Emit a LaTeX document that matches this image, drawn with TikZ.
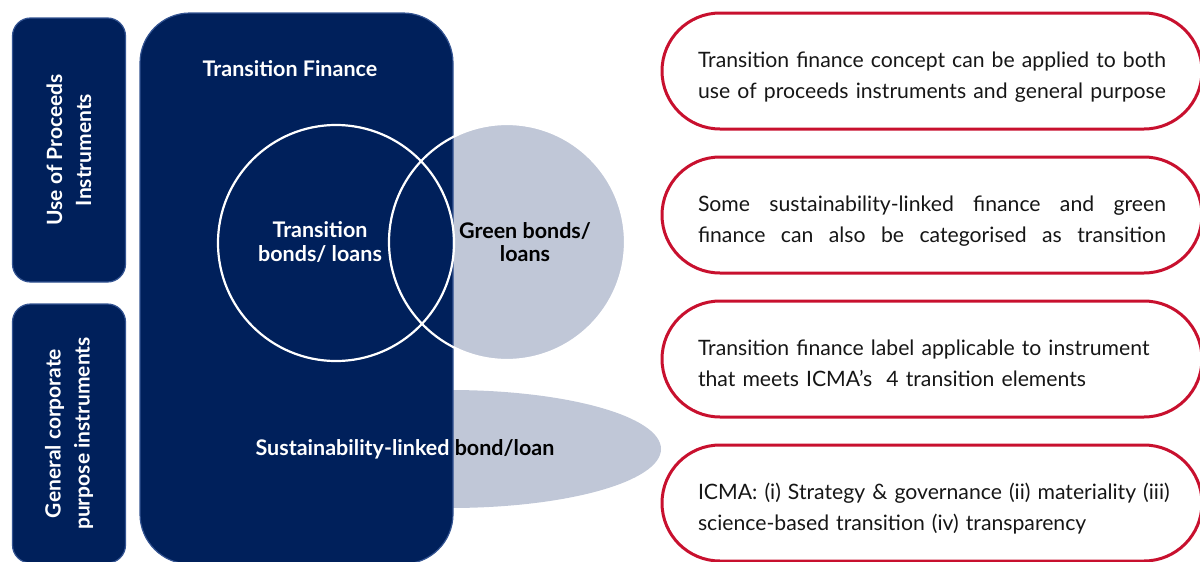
\documentclass[tikz,border=0pt]{standalone}
\usepackage{fontspec}
\setmainfont{Lato}
\usetikzlibrary{positioning,shapes.geometric}
\definecolor{tfnavy}{RGB}{0,32,91}
\definecolor{tfedge}{RGB}{52,84,146}
\definecolor{tfgrey}{RGB}{192,199,215}
\definecolor{tfred}{RGB}{200,16,46}
\definecolor{tfink}{RGB}{22,22,22}
% one line spread over the full note width
\newcommand\fullline[1]{\leavevmode\hbox to 468pt{\spaceskip=\fontdimen2\font plus 1fil\relax #1}}
% one line kept on its own even if a hair too long
\newcommand\oneline[1]{\leavevmode\hbox to 468pt{#1\hss}}
\tikzset{
  tfbox/.style={
    fill=tfnavy, draw=tfedge, line width=1.2pt, inner sep=0pt
  },
  side/.style={
    tfbox, rounded corners=18pt, rotate=90, minimum height=113pt,
    text=white, align=center, font=\fontsize{21}{29}\selectfont\bfseries
  },
  ring/.style={circle, draw=white, line width=2.2pt, minimum size=236pt, inner sep=0pt},
  blob/.style={fill=tfgrey, inner sep=0pt},
  lbl/.style={align=center, inner sep=0pt, font=\fontsize{21.5}{23.5}\selectfont\bfseries},
  note/.style={
    draw=tfred, line width=3pt, rounded corners=58pt,
    minimum width=540pt, minimum height=116pt, inner sep=0pt,
    text width=468pt, align=left, text=tfink,
    font=\fontsize{21.2}{31.5}\selectfont,
    execute at begin node={\rule{0pt}{31pt}},
    execute at end node={\rule[-7pt]{0pt}{7pt}}
  }
}

\begin{document}
\begin{tikzpicture}[x=1pt, y=-1pt, node distance=25pt]
  \useasboundingbox (0,0) rectangle (1200,562);
  % grey shapes sit behind the navy box
  \node[blob, ellipse, minimum width=422pt, minimum height=118pt] (sll) at (450,449) {};
  \node[blob, circle, minimum size=236pt] (green) at (507,242) {};
  \node[tfbox, rounded corners=50pt, minimum width=313pt, minimum height=551pt] (tf) at (296.5,288.5) {};
  \node[side, minimum width=264pt] (uop) at (69,150) {Use of Proceeds\\Instruments};
  \node[side, minimum width=259pt] (gcp) at (69,433.5) {General corporate\\purpose instruments};
  % venn outlines
  \node[ring] (trans) at (336,243) {};
  \node[ring] (greenring) at (green) {};
  \node[lbl, text=white] (tftitle) at (290,69) {Transition Finance};
  \node[lbl, text=white] (translbl) at (320,242) {Transition\\bonds/ loans};
  \node[lbl, text=black] (greenlbl) at (525,242) {Green bonds/\\loans};
  \node[lbl, text=black] (slllbl) at (405,449) {\textcolor{white}{Sustainability-linked} bond/loan};

  % notes on the right
  \node[note] (n1) at (932,71)
    {\fullline{Transition finance concept can be applied to both}\\
     \fullline{use of proceeds instruments and general purpose}};
  \node[note, below=of n1] (n2)
    {\fullline{Some sustainability-linked finance and green}\\
     \fullline{finance can also be categorised as transition}};
  \node[note, below=of n2] (n3)
    {Transition finance label applicable to instrument\\
     that meets ICMA’s~ 4 transition elements};
  \node[note, below=of n3] (n4)
    {\oneline{ICMA: (i) Strategy \& governance (ii) materiality (iii)}\\
     science-based transition (iv) transparency};
\end{tikzpicture}
\end{document}
